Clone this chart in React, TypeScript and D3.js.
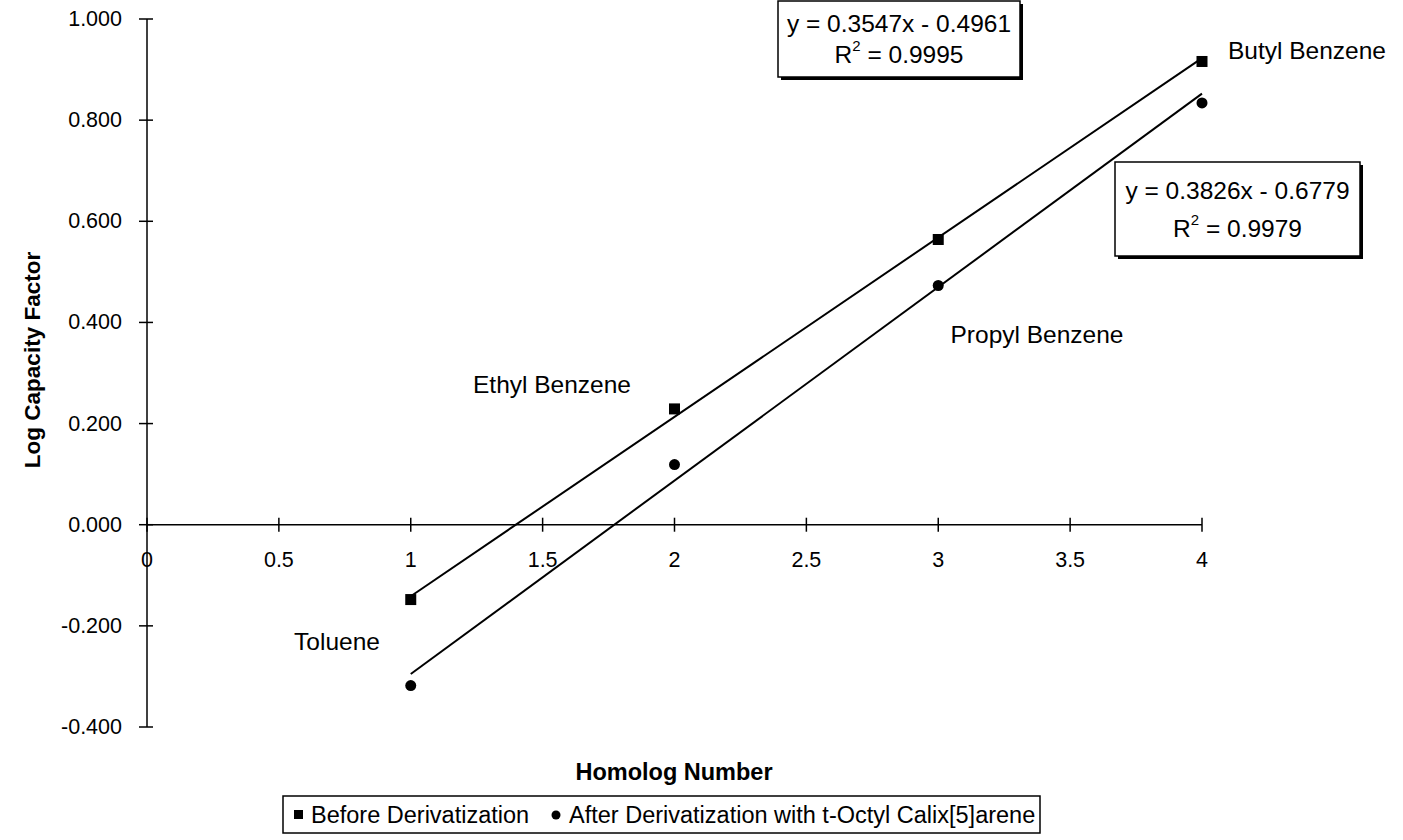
import React, { useRef, useEffect } from 'react';
import * as d3 from 'd3';

// homolog number on x, log capacity factor on y
const homologs = [1, 2, 3, 4];
const compounds = ['Toluene', 'Ethyl Benzene', 'Propyl Benzene', 'Butyl Benzene'];
const beforeValues = [-0.148, 0.229, 0.564, 0.916];
const afterValues = [-0.318, 0.119, 0.473, 0.834];

const beforeFit = { slope: 0.3547, intercept: -0.4961, r2: '0.9995', text: 'y = 0.3547x - 0.4961' };
const afterFit = { slope: 0.3826, intercept: -0.6779, r2: '0.9979', text: 'y = 0.3826x - 0.6779' };

const xTicks = [0, 0.5, 1, 1.5, 2, 2.5, 3, 3.5, 4];
const yTicks = [-0.4, -0.2, 0, 0.2, 0.4, 0.6, 0.8, 1.0];

const seriesNames = ['Before Derivatization', 'After Derivatization with t-Octyl Calix[5]arene'];

function App(): React.ReactElement {
    const ref = useRef<SVGSVGElement | null>(null);

    useEffect(() => {
        if (!ref.current) return;
        const width = 1403;
        const height = 840;
        const font = "'Liberation Sans', Arial, sans-serif";

        const svg = d3.select(ref.current);
        svg.selectAll('*').remove();
        svg.attr('width', width).attr('height', height).style('font-family', font);
        svg.append('rect').attr('width', width).attr('height', height).attr('fill', '#fff');

        const x = d3.scaleLinear().domain([0, 4]).range([147, 1202]);
        const y = d3.scaleLinear().domain([-0.4, 1.0]).range([727, 19]);
        const fmtY = (v: number) => d3.format('.3f')(v).replace('\u2212', '-');

        // y axis
        svg.append('line')
            .attr('x1', x(0)).attr('x2', x(0))
            .attr('y1', y(1.0)).attr('y2', y(-0.4))
            .attr('stroke', '#000').attr('stroke-width', 1.5);
        yTicks.forEach(t => {
            svg.append('line')
                .attr('x1', x(0) - 8).attr('x2', x(0) + 6)
                .attr('y1', y(t)).attr('y2', y(t))
                .attr('stroke', '#000').attr('stroke-width', 1.5);
            svg.append('text')
                .attr('x', 122).attr('y', y(t))
                .attr('text-anchor', 'end').attr('dominant-baseline', 'central')
                .style('font-size', '21.5px')
                .text(fmtY(t));
        });

        // x axis at y = 0
        svg.append('line')
            .attr('x1', x(0)).attr('x2', x(4))
            .attr('y1', y(0)).attr('y2', y(0))
            .attr('stroke', '#000').attr('stroke-width', 1.5);
        xTicks.forEach(t => {
            svg.append('line')
                .attr('x1', x(t)).attr('x2', x(t))
                .attr('y1', y(0) - 7).attr('y2', y(0) + 7)
                .attr('stroke', '#000').attr('stroke-width', 1.5);
            svg.append('text')
                .attr('x', x(t)).attr('y', 560)
                .attr('text-anchor', 'middle').attr('dominant-baseline', 'central')
                .style('font-size', '21.5px')
                .text(String(t));
        });

        // trendlines, from the fitted equations
        [beforeFit, afterFit].forEach(f => {
            svg.append('path')
                .attr('fill', 'none')
                .attr('stroke', '#000')
                .attr('stroke-width', 2)
                .attr('d', d3.line<number>()
                    .x(d => x(d))
                    .y(d => y(f.slope * d + f.intercept))([1, 4]) ?? '');
        });

        // markers
        homologs.forEach((h, i) => {
            svg.append('rect')
                .attr('x', x(h) - 5.5).attr('y', y(beforeValues[i]) - 5.5)
                .attr('width', 11).attr('height', 11)
                .attr('fill', '#000');
            svg.append('circle')
                .attr('cx', x(h)).attr('cy', y(afterValues[i]))
                .attr('r', 5.5)
                .attr('fill', '#000');
        });

        // compound labels
        const labelPos = [
            { x: 337, y: 641, anchor: 'middle' },
            { x: 552, y: 384, anchor: 'middle' },
            { x: 1037, y: 334, anchor: 'middle' },
            { x: 1228, y: 50, anchor: 'start' },
        ];
        compounds.forEach((c, i) => {
            svg.append('text')
                .attr('x', labelPos[i].x).attr('y', labelPos[i].y)
                .attr('text-anchor', labelPos[i].anchor)
                .attr('dominant-baseline', 'central')
                .style('font-size', '24.5px')
                .text(c);
        });

        // equation boxes
        const boxes = [
            { fit: beforeFit, x: 778, y: 1, w: 242, h: 76 },
            { fit: afterFit, x: 1115, y: 162, w: 245, h: 94 },
        ];
        boxes.forEach(b => {
            svg.append('rect')
                .attr('x', b.x + 3).attr('y', b.y + 3)
                .attr('width', b.w).attr('height', b.h)
                .attr('fill', '#000');
            svg.append('rect')
                .attr('x', b.x).attr('y', b.y)
                .attr('width', b.w).attr('height', b.h)
                .attr('fill', '#fff').attr('stroke', '#000').attr('stroke-width', 1.5);
            const cx = b.x + b.w / 2;
            svg.append('text')
                .attr('x', cx).attr('y', b.y + b.h * 0.3)
                .attr('text-anchor', 'middle').attr('dominant-baseline', 'central')
                .style('font-size', '24.5px')
                .text(b.fit.text);
            const t2 = svg.append('text')
                .attr('x', cx).attr('y', b.y + b.h * 0.7)
                .attr('text-anchor', 'middle').attr('dominant-baseline', 'central')
                .style('font-size', '24.5px');
            t2.append('tspan').text('R');
            t2.append('tspan').attr('dy', -9).style('font-size', '15px').text('2');
            t2.append('tspan').attr('dy', 9).text(` = ${b.fit.r2}`);
        });

        // axis titles
        svg.append('text')
            .attr('transform', 'translate(32,360) rotate(-90)')
            .attr('text-anchor', 'middle').attr('dominant-baseline', 'central')
            .style('font-size', '22.5px').style('font-weight', 'bold')
            .text('Log Capacity Factor');
        svg.append('text')
            .attr('x', 674).attr('y', 772)
            .attr('text-anchor', 'middle').attr('dominant-baseline', 'central')
            .style('font-size', '23.5px').style('font-weight', 'bold')
            .text('Homolog Number');

        // legend
        const lg = svg.append('g');
        lg.append('rect')
            .attr('x', 283).attr('y', 796).attr('width', 757).attr('height', 37)
            .attr('fill', '#fff').attr('stroke', '#000').attr('stroke-width', 1.5);
        lg.append('rect')
            .attr('x', 294).attr('y', 810).attr('width', 9).attr('height', 9).attr('fill', '#000');
        lg.append('text')
            .attr('x', 311).attr('y', 815).attr('dominant-baseline', 'central')
            .style('font-size', '23.5px').text(seriesNames[0]);
        lg.append('circle')
            .attr('cx', 556).attr('cy', 815).attr('r', 4.5).attr('fill', '#000');
        lg.append('text')
            .attr('x', 569).attr('y', 815).attr('dominant-baseline', 'central')
            .style('font-size', '23.5px').text(seriesNames[1]);
    }, []);

    return (
        <svg ref={ref} width={1403} height={840}
            style={{ position: 'absolute', left: 0, top: 0 }} />
    );
}

export default App;
